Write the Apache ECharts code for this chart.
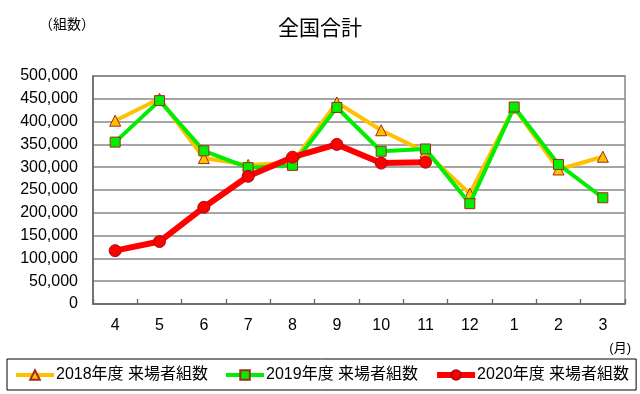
<!DOCTYPE html>
<html><head><meta charset="utf-8">
<script src="https://cdn.jsdelivr.net/npm/echarts@6/dist/echarts.min.js"></script>
<style>html,body{margin:0;padding:0;background:#fff}#c{width:640px;height:394px}</style>
</head><body><div id="c"></div>
<script>
const months = ['4','5','6','7','8','9','10','11','12','1','2','3'];
const s2018Name = '2018年度 来場者組数';
const s2019Name = '2019年度 来場者組数';
const s2020Name = '2020年度 来場者組数';
const s2018 = [402000, 450000, 320000, 305000, 310000, 442000, 381000, 333000, 242000, 431000, 295000, 323000];
const s2019 = [355000, 446000, 336000, 299000, 304000, 431000, 335000, 340000, 220000, 432000, 306000, 233000];
const s2020 = [117000, 137000, 212000, 280000, 322000, 350000, 309000, 311000];
const yTicks = {min: 0, max: 500000, interval: 50000};

const FONT = '"Liberation Sans", Arial, "Noto Sans CJK JP", sans-serif';
const chart = echarts.init(document.getElementById('c'));
chart.setOption({
  animation: false,
  backgroundColor: '#fff',
  textStyle: {fontFamily: FONT, color: '#000'},
  title: {
    text: '全国合計', left: 'center', top: 14,
    textStyle: {fontSize: 21, fontWeight: 'normal', color: '#000', fontFamily: FONT}
  },
  graphic: [
    {type: 'text', left: 39, top: 18, style: {text: '（組数）', fontSize: 14, fill: '#000', fontFamily: FONT}},
    {type: 'text', right: 9, top: 342, style: {text: '(月)', fontSize: 13, fill: '#000', fontFamily: FONT}}
  ],
  legend: {
    left: 7, top: 359, width: 640,
    padding: [8, 7, 7, 7],
    borderColor: '#000', borderWidth: 1,
    itemWidth: 38, itemHeight: 12, itemGap: 16,
    textStyle: {fontSize: 16, color: '#000', fontFamily: FONT, padding: [0, 0, 0, -3]},
    data: [
      {name: s2018Name, lineStyle: {width: 4}},
      {name: s2019Name, lineStyle: {width: 4}},
      {name: s2020Name, lineStyle: {width: 6}}
    ]
  },
  grid: {left: 93, right: 15, top: 76, bottom: 90, show: true, borderColor: '#888', borderWidth: 1.5},
  xAxis: {
    type: 'category', data: months, boundaryGap: true,
    axisLine: {lineStyle: {color: '#666', width: 1.5}},
    axisTick: {show: true, inside: true, length: 5, alignWithLabel: false, lineStyle: {color: '#666', width: 1.3}},
    axisLabel: {fontSize: 16, color: '#000', margin: 14, fontFamily: FONT},
    splitLine: {show: false}
  },
  yAxis: {
    type: 'value', min: yTicks.min, max: yTicks.max, interval: yTicks.interval,
    axisLine: {show: true, lineStyle: {color: '#666', width: 1.5}},
    axisTick: {show: false},
    axisLabel: {fontSize: 16, color: '#000', margin: 15, fontFamily: FONT,
      formatter: v => v.toLocaleString('en-US')},
    splitLine: {lineStyle: {color: '#888', width: 1.5}}
  },
  series: [
    {name: s2018Name, type: 'line', data: s2018, symbol: 'triangle', symbolSize: 11,
      lineStyle: {color: '#FFC000', width: 4}, itemStyle: {color: '#FFC000', borderColor: '#A52A1A', borderWidth: 1},
      z: 2},
    {name: s2019Name, type: 'line', data: s2019, symbol: 'rect', symbolSize: 10,
      lineStyle: {color: '#00EE00', width: 4}, itemStyle: {color: '#00EE00', borderColor: '#A52A1A', borderWidth: 1},
      z: 3},
    {name: s2020Name, type: 'line', data: s2020, symbol: 'circle', symbolSize: 12,
      lineStyle: {color: '#FF0000', width: 6}, itemStyle: {color: '#FF0000', borderColor: '#A01010', borderWidth: 1},
      z: 4}
  ]
});
</script></body></html>
